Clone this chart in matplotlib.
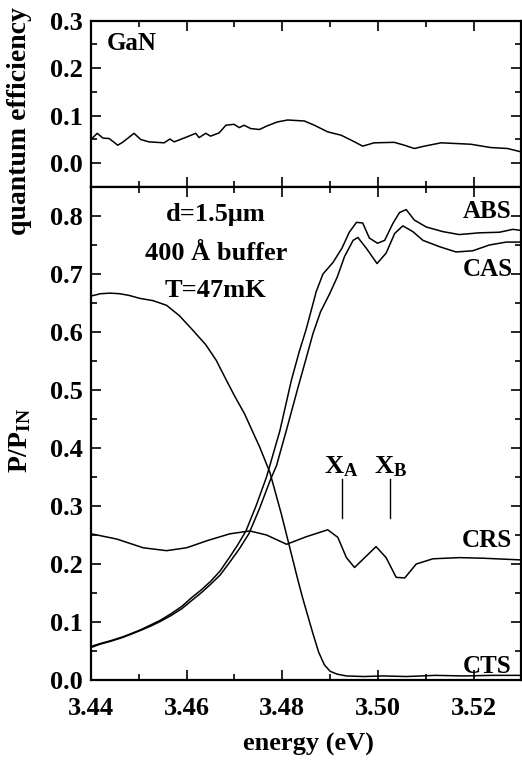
import matplotlib
matplotlib.use('Agg')
import matplotlib.pyplot as plt
from matplotlib.ticker import MultipleLocator

plt.rcParams['font.family'] = 'Liberation Serif'
plt.rcParams['font.weight'] = 'bold'
plt.rcParams['mathtext.fontset'] = 'custom'
plt.rcParams['mathtext.rm'] = 'Liberation Serif:bold'
plt.rcParams['mathtext.bf'] = 'Liberation Serif:bold'
plt.rcParams['mathtext.it'] = 'Liberation Serif:bold'

# quantum efficiency (top panel)
qe_e = [3.4400, 3.4413, 3.4425, 3.4438, 3.4456, 3.4466, 3.4490, 3.4504, 3.4521, 3.4553,
        3.4565, 3.4574, 3.4602, 3.4619, 3.4626, 3.4640, 3.4650, 3.4668, 3.4682, 3.4699,
        3.4710, 3.4720, 3.4734, 3.4752, 3.4769, 3.4790, 3.4811, 3.4846, 3.4867, 3.4895,
        3.4923, 3.4951, 3.4968, 3.4992, 3.5034, 3.5055, 3.5076, 3.5097, 3.5132, 3.5194,
        3.5236, 3.5271, 3.5299]
qe_v = [0.050, 0.063, 0.053, 0.052, 0.038, 0.044, 0.063, 0.050, 0.045, 0.043,
        0.051, 0.045, 0.056, 0.063, 0.054, 0.063, 0.057, 0.064, 0.080, 0.082,
        0.075, 0.080, 0.073, 0.071, 0.079, 0.087, 0.091, 0.089, 0.080, 0.066,
        0.059, 0.045, 0.036, 0.043, 0.044, 0.038, 0.031, 0.036, 0.043, 0.040,
        0.033, 0.031, 0.024]

# absorption
abs_e = [3.4400, 3.4420, 3.4442, 3.4465, 3.4484, 3.4505, 3.4525, 3.4545, 3.4567, 3.4590,
         3.4609, 3.4630, 3.4650, 3.4670, 3.4690, 3.4706, 3.4724, 3.4745, 3.4767, 3.4795,
         3.4819, 3.4835, 3.4850, 3.4871, 3.4885, 3.4906, 3.4925, 3.4940, 3.4955, 3.4968,
         3.4982, 3.4999, 3.5014, 3.5031, 3.5045, 3.5059, 3.5076, 3.5101, 3.5136, 3.5170,
         3.5212, 3.5254, 3.5282, 3.5300]
abs_v = [0.058, 0.063, 0.068, 0.074, 0.080, 0.087, 0.095, 0.103, 0.114, 0.127,
         0.141, 0.155, 0.170, 0.188, 0.212, 0.232, 0.257, 0.300, 0.350, 0.430,
         0.517, 0.565, 0.605, 0.670, 0.700, 0.720, 0.745, 0.772, 0.789, 0.788,
         0.762, 0.753, 0.758, 0.787, 0.806, 0.811, 0.793, 0.781, 0.773, 0.768,
         0.771, 0.772, 0.777, 0.775]

# calorimetric absorption
cas_e = [3.4400, 3.4420, 3.4442, 3.4465, 3.4484, 3.4505, 3.4525, 3.4545, 3.4567, 3.4590,
         3.4609, 3.4630, 3.4650, 3.4670, 3.4690, 3.4710, 3.4730, 3.4752, 3.4775, 3.4788,
         3.4810, 3.4833, 3.4850, 3.4864, 3.4880, 3.4899, 3.4915, 3.4930, 3.4948, 3.4958,
         3.4976, 3.4998, 3.5017, 3.5035, 3.5052, 3.5073, 3.5094, 3.5129, 3.5163, 3.5198,
         3.5233, 3.5268, 3.5300]
cas_v = [0.056, 0.062, 0.067, 0.073, 0.079, 0.086, 0.093, 0.101, 0.111, 0.123,
         0.136, 0.150, 0.165, 0.181, 0.203, 0.226, 0.252, 0.295, 0.345, 0.370,
         0.435, 0.505, 0.555, 0.597, 0.635, 0.666, 0.695, 0.730, 0.758, 0.763,
         0.744, 0.718, 0.736, 0.770, 0.783, 0.773, 0.758, 0.747, 0.738, 0.740,
         0.750, 0.755, 0.755]

# reflection
crs_e = [3.4401, 3.4454, 3.4509, 3.4558, 3.4600, 3.4642, 3.4690, 3.4732, 3.4767, 3.4809,
         3.4850, 3.4895, 3.4916, 3.4934, 3.4951, 3.4976, 3.4996, 3.5017, 3.5038, 3.5056,
         3.5080, 3.5115, 3.5170, 3.5219, 3.5300]
crs_v = [0.252, 0.243, 0.228, 0.223, 0.228, 0.240, 0.252, 0.257, 0.250, 0.234,
         0.247, 0.259, 0.246, 0.211, 0.194, 0.214, 0.230, 0.211, 0.177, 0.176,
         0.200, 0.209, 0.211, 0.210, 0.207]

# transmission
cts_e = [3.4400, 3.4420, 3.4440, 3.4460, 3.4480, 3.4502, 3.4530, 3.4558, 3.4585, 3.4613,
         3.4640, 3.4662, 3.4683, 3.4700, 3.4721, 3.4753, 3.4774, 3.4798, 3.4812, 3.4833,
         3.4843, 3.4864, 3.4876, 3.4888, 3.4900, 3.4915, 3.4934, 3.4970, 3.5010, 3.5060,
         3.5120, 3.5180, 3.5240, 3.5300]
cts_v = [0.662, 0.666, 0.667, 0.666, 0.663, 0.658, 0.654, 0.646, 0.628, 0.603,
         0.578, 0.551, 0.517, 0.490, 0.459, 0.401, 0.358, 0.286, 0.240, 0.171,
         0.140, 0.080, 0.048, 0.026, 0.015, 0.010, 0.007, 0.006, 0.007, 0.006,
         0.008, 0.007, 0.008, 0.008]

xticks = [3.44, 3.46, 3.48, 3.50, 3.52]

fig = plt.figure(figsize=(5.22, 7.62), dpi=100)
ax1 = fig.add_axes([0.1743, 0.7546, 0.8247, 0.2182])
ax2 = fig.add_axes([0.1743, 0.1076, 0.8247, 0.6470])

for ax in (ax1, ax2):
    ax.set_xlim(3.44, 3.53)
    ax.xaxis.set_major_locator(MultipleLocator(0.02))
    ax.xaxis.set_minor_locator(MultipleLocator(0.01))
    ax.yaxis.set_major_locator(MultipleLocator(0.1))
    ax.yaxis.set_minor_locator(MultipleLocator(0.05))
    ax.tick_params(which='both', direction='in', top=True, right=True, width=1.2,
                   labelsize=19)
    ax.tick_params(which='major', length=7)
    ax.tick_params(which='minor', length=4)
    ax.tick_params(axis='y', pad=6)
    ax.tick_params(axis='x', pad=12)
    for s in ax.spines.values():
        s.set_linewidth(1.6)

ax1.set_ylim(-0.05, 0.3)
ax1.set_xticklabels([])
ax1.plot(qe_e, qe_v, color='black', lw=1.1)
ax1.text(3.4433, 0.253, 'GaN', fontsize=18, va='center', ha='left')

ax2.set_ylim(0.0, 0.85)
ax2.set_xticks(xticks)
ax2.set_xticklabels(['%.2f' % t for t in xticks])
ax2.set_yticks([0.0, 0.1, 0.2, 0.3, 0.4, 0.5, 0.6, 0.7, 0.8])
for e, v in [(abs_e, abs_v), (cas_e, cas_v), (crs_e, crs_v), (cts_e, cts_v)]:
    ax2.plot(e, v, color='black', lw=1.1)

ax2.text(3.4661, 0.802, 'd=1.5\u03bcm', fontsize=19, ha='center', va='center')
ax2.text(3.4661, 0.736, '400 \u00c5 buffer', fontsize=19, ha='center', va='center')
ax2.text(3.4661, 0.672, 'T=47mK', fontsize=19, ha='center', va='center')

ax2.text(3.5279, 0.807, 'ABS', fontsize=18, ha='right', va='center')
ax2.text(3.5281, 0.708, 'CAS', fontsize=18, ha='right', va='center')
ax2.text(3.5281, 0.240, 'CRS', fontsize=18, ha='right', va='center')
ax2.text(3.5279, 0.024, 'CTS', fontsize=18, ha='right', va='center')

ax2.text(3.4924, 0.368, r'$\mathbf{X_A}$', fontsize=19, ha='center', va='center')
ax2.text(3.5026, 0.368, r'$\mathbf{X_B}$', fontsize=19, ha='center', va='center')
ax2.plot([3.4925, 3.4925], [0.280, 0.347], color='black', lw=1.0)
ax2.plot([3.5026, 3.5026], [0.280, 0.347], color='black', lw=1.0)

fig.text(0.038, 0.841, 'quantum efficiency', fontsize=20, rotation=90,
         ha='center', va='center')
fig.text(0.038, 0.4226, r'$\mathbf{P/P_{IN}}$', fontsize=20, rotation=90,
         ha='center', va='center')
fig.text(0.59, 0.023, 'energy (eV)', fontsize=19, ha='center', va='center')

fig.savefig('out.png', dpi=100)
